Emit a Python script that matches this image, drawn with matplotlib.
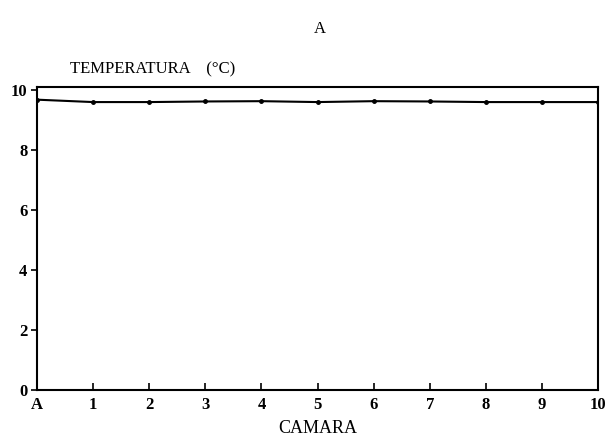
import numpy as np
import matplotlib.pyplot as plt

# temperatura medida por camara
camaras = ['A', '1', '2', '3', '4', '5', '6', '7', '8', '9', '10']
temperatura = [9.68, 9.6, 9.6, 9.62, 9.63, 9.6, 9.63, 9.62, 9.6, 9.6, 9.6]
yticks = [0, 2, 4, 6, 8, 10]

plt.rcParams['font.family'] = ['Liberation Serif', 'DejaVu Serif']

fig = plt.figure(figsize=(6.13, 4.42), dpi=100)
ax = fig.add_axes([0.0604, 0.1176, 0.9151, 0.6854])

x = np.arange(len(camaras))
ax.plot(x, temperatura, color='black', lw=1.5, marker='o', ms=2.5)

ax.set_xlim(0, len(camaras) - 1)
ax.set_ylim(0, 10.1)
ax.set_xticks(x)
ax.set_xticklabels(camaras, fontweight='bold', fontsize=12)
ax.set_yticks(yticks)
ax.set_yticklabels([str(v) for v in yticks], fontweight='bold', fontsize=12)
ax.tick_params(axis='x', direction='in', length=5, width=1.2, pad=5)
ax.tick_params(axis='y', direction='out', length=4, width=1.2, pad=3)
for s in ax.spines.values():
    s.set_linewidth(1.5)

ax.set_xlabel('CAMARA', fontsize=13, labelpad=5)
fig.text(0.115, 0.825, 'TEMPERATURA    (°C)', fontsize=12, ha='left', va='bottom')
fig.text(0.522, 0.935, 'A', fontsize=12, ha='center', va='center')

fig.savefig('out.png', dpi=100)
